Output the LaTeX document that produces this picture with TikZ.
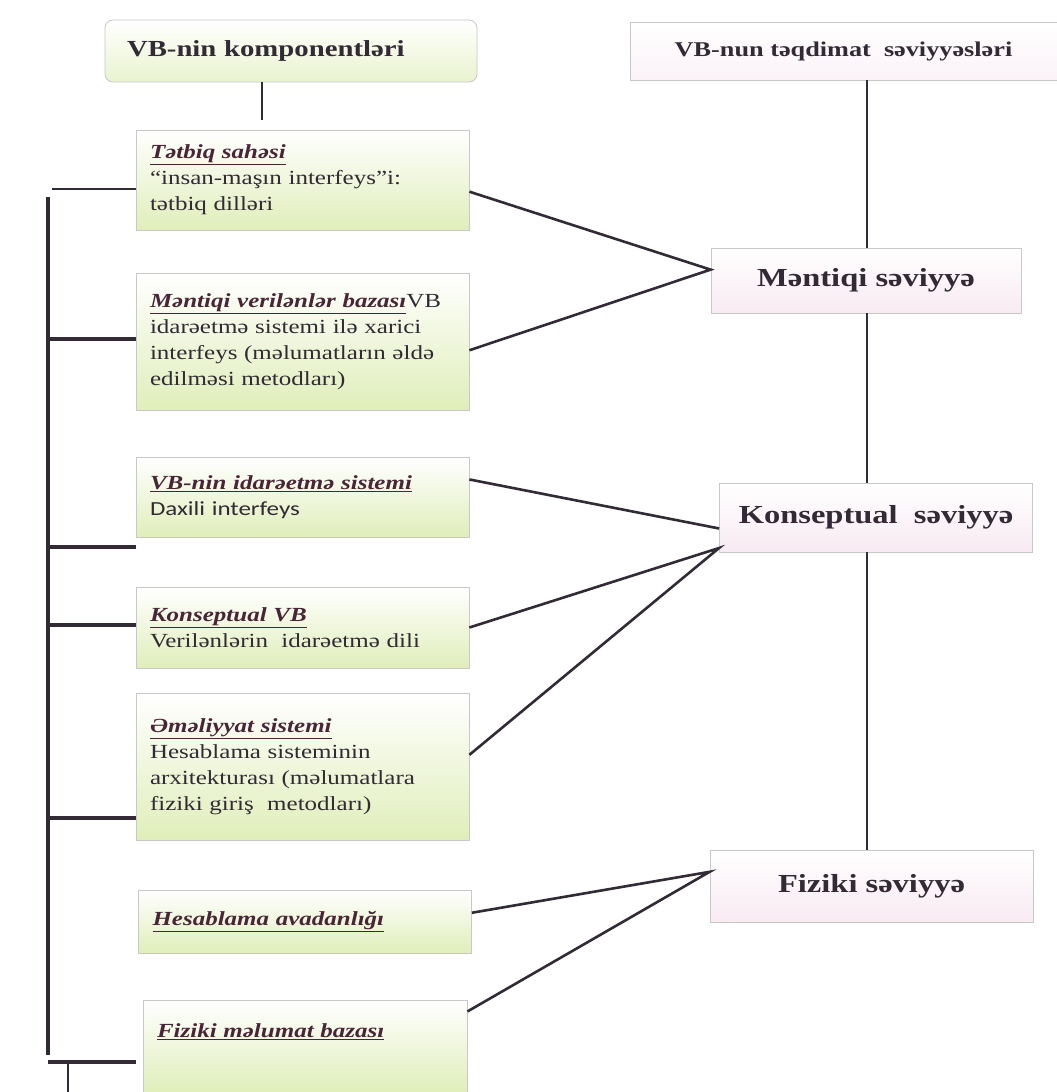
\documentclass[tikz,border=0pt]{standalone}
\usepackage{fontspec}
\setmainfont{Liberation Serif}[FakeStretch=1.25]
\newfontfamily\calfont{Carlito}[FakeStretch=1.25]
\usetikzlibrary{positioning,calc}

\definecolor{inkcol}{RGB}{50,42,52}
\definecolor{titlecol}{RGB}{72,38,55}
\definecolor{greenbot}{RGB}{224,238,186}
\definecolor{pinkbot}{RGB}{248,234,242}
\definecolor{edgecol}{RGB}{200,200,200}

\newcommand{\boxtitle}[1]{\textbf{\textit{\color{titlecol}\underline{#1}}}}

\begin{document}
\begin{tikzpicture}[x=1pt, y=-1pt,
    compbox/.style={draw=edgecol, line width=0.8pt, top color=white, middle color=white, bottom color=greenbot,
        text width=305pt, inner xsep=14pt, minimum height=#1, align=left, text=inkcol,
        font=\fontsize{20}{26}\selectfont},
    compbox/.default=80pt,
    levelbox/.style={draw=edgecol, line width=0.8pt, top color=white, middle color=white, bottom color=pinkbot,
        text=inkcol, font=\bfseries\fontsize{26}{30}\selectfont},
    headbox/.style={draw=edgecol, line width=0.8pt, top color=white, middle color=white,
        text=inkcol, font=\bfseries\fontsize{23}{28}\selectfont},
    link/.style={draw=inkcol, line width=2.6pt},
    brace/.style={draw=inkcol, line width=3.8pt},
    thinline/.style={draw=inkcol, line width=1.2pt}]

    \fill[white] (0,0) rectangle (1057,1092);
    \useasboundingbox (0,0) rectangle (1057,1092);

    % headers
    \node[headbox, rounded corners=8pt, bottom color=greenbot!70, minimum width=372pt, minimum height=62pt,
        text width=328pt, inner xsep=22pt, align=left] (hdrL) at (291,51) {VB-nin komponentləri};
    \node[headbox, bottom color=pinkbot!60, minimum width=427pt, minimum height=58pt, font=\bfseries\fontsize{21}{25}\selectfont] (hdrR) at (843.5,51) {VB-nun təqdimat\ \ səviyyəsləri};

    % components
    \node[compbox=100pt] (tetbiq) at (302.5,180) {\boxtitle{Tətbiq sahəsi}\\ “insan-maşın interfeys”i:\\ tətbiq dilləri};
    \node[compbox=137pt] (mentvb) at (302.5,341.5) {\boxtitle{Məntiqi verilənlər bazası}VB\\ idarəetmə sistemi ilə xarici\\ interfeys (məlumatların əldə\\ edilməsi metodları)};
    \node[compbox=80pt] (vbis) at (302.5,497) {\boxtitle{VB-nin idarəetmə sistemi}\\ {\calfont Daxili interfeys}};
    \node[compbox=81pt] (konsvb) at (302.5,627.5) {\boxtitle{Konseptual VB}\\ Verilənlərin\ \ idarəetmə dili};
    \node[compbox=147pt] (emel) at (302.5,766.5) {\boxtitle{Əməliyyat sistemi}\\ Hesablama sisteminin\\ arxitekturası (məlumatlara\\ fiziki giriş\ \ metodları)};
    \node[compbox=63pt] (avad) at (305,921.5) {\boxtitle{Hesablama avadanlığı}};
    \node[compbox=92pt, text width=296pt, text depth=30pt] (fizvb) at (305,1046) {\boxtitle{Fiziki məlumat bazası}};

    % levels
    \node[levelbox, minimum width=310pt, minimum height=65pt] (mant) at (866,280.5) {Məntiqi səviyyə};
    \node[levelbox, minimum width=313pt, minimum height=69pt] (konsep) at (876,517.5) {Konseptual\ \ səviyyə};
    \node[levelbox, minimum width=323pt, minimum height=72pt] (fiz) at (871.5,886) {Fiziki səviyyə};

    % right spine
    \coordinate (spine) at (867,0);
    \draw[link] (hdrR.south -| spine) -- (mant.north -| spine);
    \draw[link] (mant.south -| spine) -- (konsep.north -| spine);
    \draw[link] (konsep.south -| spine) -- (fiz.north -| spine);

    % components to levels
    \draw[link] (tetbiq.-4) -- (mant.176) -- (mentvb.-3);
    \draw[link] (vbis.6) -- (konsep.184);
    \draw[link] (konsvb.east) -- (konsep.191) -- (emel.4);
    \draw[link] (avad.3) -- (fiz.175) -- (fizvb.12);

    % left bracket
    \coordinate (brtop) at (48,197);
    \coordinate (brbot) at (48,1055);
    \coordinate (b0) at (52,189);
    \coordinate (b1) at (48,339);
    \coordinate (b2) at (48,547);
    \coordinate (b3) at (48,625);
    \coordinate (b4) at (48,818);
    \coordinate (b5) at (48,1062);
    \coordinate (hdrLdrop) at (262,120);
    \coordinate (tail) at (68,1092);

    \draw[thinline] (hdrLdrop |- hdrL.south) -- (hdrLdrop);
    \draw[thinline] (b0) -- (b0 -| tetbiq.west);
    \draw[brace] (brtop) -- (brbot);
    \draw[brace] (b1) -- (b1 -| mentvb.west);
    \draw[brace] (b2) -- (b2 -| vbis.west);
    \draw[brace] (b3) -- (b3 -| konsvb.west);
    \draw[brace] (b4) -- (b4 -| emel.west);
    \draw[brace] (b5) -- (b5 -| emel.west);
    \draw[thinline] (b5 -| tail) -- (tail);
\end{tikzpicture}
\end{document}
